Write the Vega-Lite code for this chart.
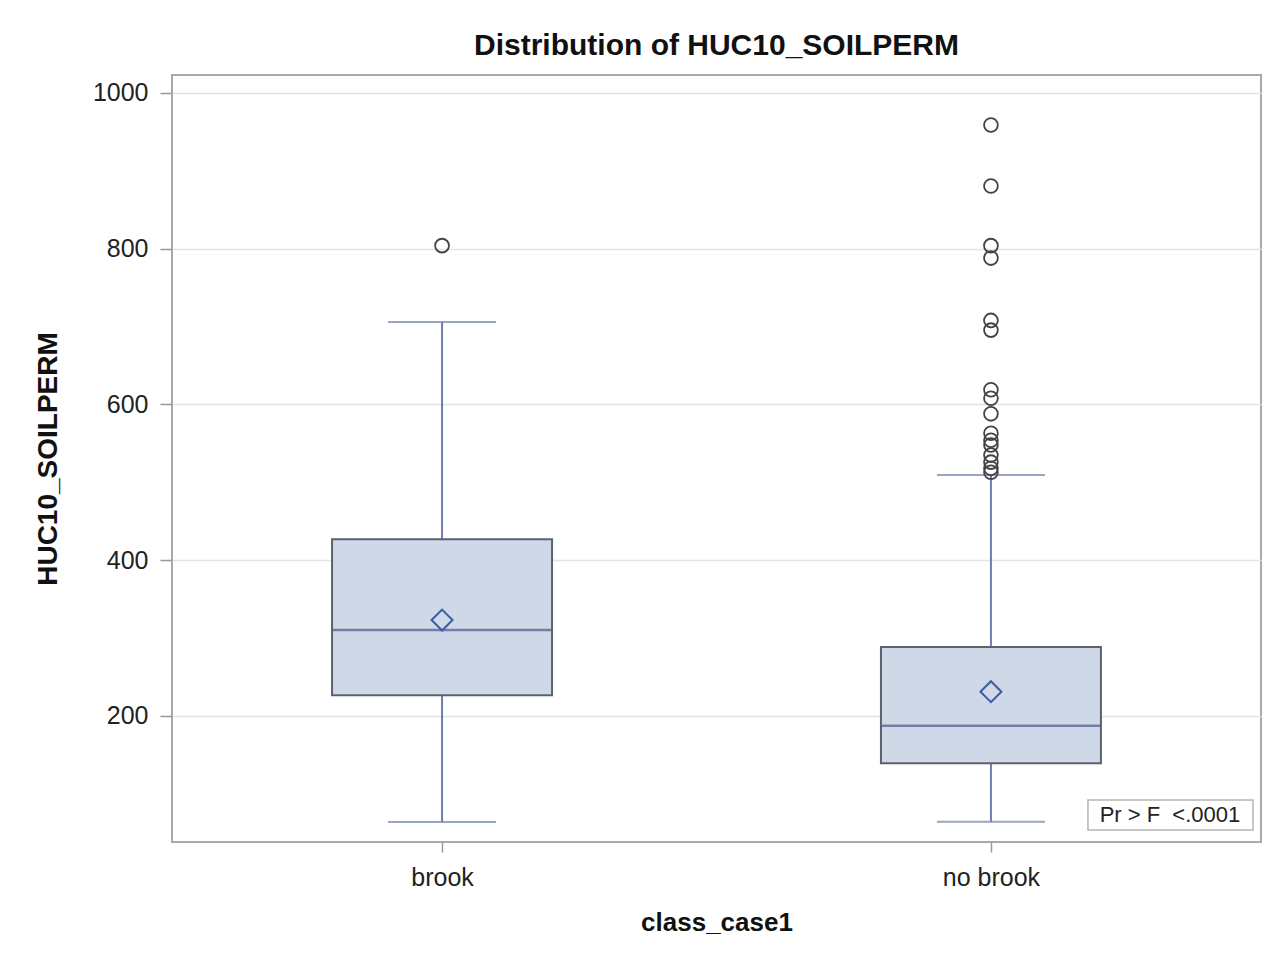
{
  "$schema": "https://vega.github.io/schema/vega-lite/v6.json",
  "width": 1089,
  "height": 767,
  "autosize": {"type": "none"},
  "padding": {"left": 172, "top": 75, "right": 14, "bottom": 115},
  "background": "white",
  "config": {
    "font": "Liberation Sans",
    "view": {"stroke": "#a9a9a9", "strokeWidth": 2},
    "axis": {"labelFont": "Liberation Sans", "titleFont": "Liberation Sans"}
  },
  "title": {
    "text": "Distribution of HUC10_SOILPERM",
    "fontSize": 30,
    "fontWeight": "bold",
    "color": "#111111",
    "anchor": "middle",
    "offset": 14
  },
  "datasets": {
    "stats": [
      {"class_case1": "brook", "lo": 63.9, "q1": 226.6, "med": 310.4, "q3": 427.0, "hi": 705.9, "mean": 323.2},
      {"class_case1": "no brook", "lo": 64.1, "q1": 139.3, "med": 187.5, "q3": 288.5, "hi": 509.5, "mean": 231.2}
    ],
    "outliers": [
      {"class_case1": "brook", "HUC10_SOILPERM": 804},
      {"class_case1": "no brook", "HUC10_SOILPERM": 959},
      {"class_case1": "no brook", "HUC10_SOILPERM": 880.5},
      {"class_case1": "no brook", "HUC10_SOILPERM": 804},
      {"class_case1": "no brook", "HUC10_SOILPERM": 788},
      {"class_case1": "no brook", "HUC10_SOILPERM": 708},
      {"class_case1": "no brook", "HUC10_SOILPERM": 695.5},
      {"class_case1": "no brook", "HUC10_SOILPERM": 619},
      {"class_case1": "no brook", "HUC10_SOILPERM": 608},
      {"class_case1": "no brook", "HUC10_SOILPERM": 588},
      {"class_case1": "no brook", "HUC10_SOILPERM": 563},
      {"class_case1": "no brook", "HUC10_SOILPERM": 554},
      {"class_case1": "no brook", "HUC10_SOILPERM": 548},
      {"class_case1": "no brook", "HUC10_SOILPERM": 535},
      {"class_case1": "no brook", "HUC10_SOILPERM": 526},
      {"class_case1": "no brook", "HUC10_SOILPERM": 518},
      {"class_case1": "no brook", "HUC10_SOILPERM": 513}
    ],
    "note": [
      {"label": "Pr > F\u00a0 <.0001", "class_case1": "no brook", "pos": 72.9}
    ]
  },
  "layer": [
    {
      "data": {"name": "stats"},
      "mark": {"type": "rule", "color": "#6e7fae", "strokeWidth": 2},
      "encoding": {
        "x": {
          "field": "class_case1", "type": "nominal",
          "scale": {"type": "point", "padding": 0.492},
          "axis": {
            "title": "class_case1", "titleFontSize": 26, "titleFontWeight": "bold", "titleColor": "#111111", "titlePadding": 19,
            "labelFontSize": 25, "labelColor": "#222222", "labelAngle": 0, "labelPadding": 13,
            "tickColor": "#999999", "tickSize": 10, "tickWidth": 1.5, "domain": false, "grid": false
          }
        },
        "y": {
          "field": "lo", "type": "quantitative",
          "scale": {"domain": [38.2, 1023.1], "nice": false, "zero": false},
          "axis": {
            "title": "HUC10_SOILPERM", "titleFontSize": 28, "titleFontWeight": "bold", "titleColor": "#111111", "titlePadding": 30,
            "values": [200, 400, 600, 800, 1000], "format": "d",
            "labelFontSize": 25, "labelColor": "#222222", "labelPadding": 12,
            "tickColor": "#999999", "tickSize": 12, "tickWidth": 1.5, "domain": false,
            "grid": true, "gridColor": "#e3e3e3", "gridWidth": 1.5
          }
        },
        "y2": {"field": "hi"}
      }
    },
    {
      "data": {"name": "stats"},
      "mark": {"type": "tick", "size": 108, "thickness": 2, "color": "#6e7fae"},
      "encoding": {
        "x": {"field": "class_case1", "type": "nominal"},
        "y": {"field": "lo", "type": "quantitative"}
      }
    },
    {
      "data": {"name": "stats"},
      "mark": {"type": "tick", "size": 108, "thickness": 2, "color": "#6e7fae"},
      "encoding": {
        "x": {"field": "class_case1", "type": "nominal"},
        "y": {"field": "hi", "type": "quantitative"}
      }
    },
    {
      "data": {"name": "stats"},
      "mark": {"type": "bar", "size": 220, "fill": "#cfd8e7", "stroke": "#5c6170", "strokeWidth": 2},
      "encoding": {
        "x": {"field": "class_case1", "type": "nominal"},
        "y": {"field": "q1", "type": "quantitative"},
        "y2": {"field": "q3"}
      }
    },
    {
      "data": {"name": "stats"},
      "mark": {"type": "tick", "size": 218, "thickness": 2.5, "color": "#4a5888"},
      "encoding": {
        "x": {"field": "class_case1", "type": "nominal"},
        "y": {"field": "med", "type": "quantitative"}
      }
    },
    {
      "data": {"name": "stats"},
      "mark": {"type": "point", "shape": "diamond", "size": 440, "filled": false, "stroke": "#3d5aa6", "strokeWidth": 2, "opacity": 1},
      "encoding": {
        "x": {"field": "class_case1", "type": "nominal"},
        "y": {"field": "mean", "type": "quantitative"}
      }
    },
    {
      "data": {"name": "outliers"},
      "mark": {"type": "point", "shape": "circle", "size": 190, "filled": false, "stroke": "#444444", "strokeWidth": 1.8, "opacity": 1},
      "encoding": {
        "x": {"field": "class_case1", "type": "nominal"},
        "y": {"field": "HUC10_SOILPERM", "type": "quantitative"}
      }
    },
    {
      "data": {"name": "note"},
      "mark": {"type": "point", "shape": "M0.97,-0.15L2.62,-0.15L2.62,0.15L0.97,0.15Z", "size": 40000, "filled": true, "fill": "white", "stroke": "#b5b5b5", "strokeWidth": 1.5, "opacity": 1},
      "encoding": {
        "x": {"field": "class_case1", "type": "nominal"},
        "y": {"field": "pos", "type": "quantitative"}
      }
    },
    {
      "data": {"name": "note"},
      "mark": {"type": "text", "fontSize": 22, "color": "#222222", "align": "center", "baseline": "middle", "dx": 179},
      "encoding": {
        "x": {"field": "class_case1", "type": "nominal"},
        "y": {"field": "pos", "type": "quantitative"},
        "text": {"field": "label"}
      }
    }
  ]
}
